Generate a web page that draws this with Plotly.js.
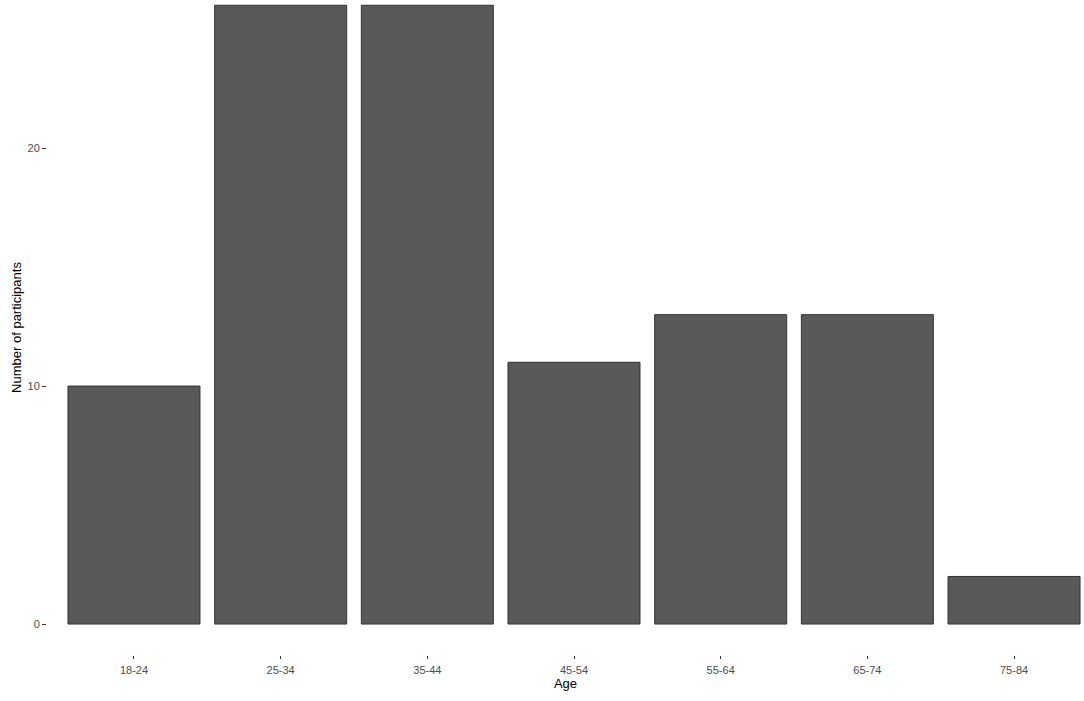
<!DOCTYPE html>
<html>
<head>
<meta charset="utf-8">
<script src="https://cdn.plot.ly/plotly-3.0.1.min.js"></script>
<style>
  html, body { margin: 0; padding: 0; background: #fff; }
  #chart { width: 1084px; height: 701px; }
</style>
</head>
<body>
<div id="chart"></div>
<script>
const ageGroups = ['18-24', '25-34', '35-44', '45-54', '55-64', '65-74', '75-84'];
const participants = [10, 26, 26, 11, 13, 13, 2];
const yTicks = [0, 10, 20];

const font = 'Liberation Sans, Arial, sans-serif';

Plotly.newPlot('chart', [{
  type: 'bar',
  x: ageGroups,
  y: participants,
  marker: { color: '#595959', line: { color: '#333333', width: 1 } },
  hoverinfo: 'x+y'
}], {
  width: 1084,
  height: 701,
  paper_bgcolor: '#ffffff',
  plot_bgcolor: '#ffffff',
  margin: { l: 47, r: 0, t: 0, b: 46 },
  bargap: 0.1,
  showlegend: false,
  font: { family: font, color: '#000000', size: 13 },
  xaxis: {
    type: 'category',
    range: [-0.593, 6.477],
    showgrid: false,
    zeroline: false,
    showline: false,
    ticks: 'outside',
    ticklen: 3,
    tickwidth: 1,
    tickcolor: '#333333',
    ticklabelstandoff: 2,
    tickfont: { family: font, size: 11, color: '#4d4d4d' },
    automargin: false,
    title: { text: 'Age', font: { family: font, size: 13, color: '#000000' }, standoff: 2 }
  },
  yaxis: {
    range: [-1.3, 26.22],
    tickvals: yTicks,
    ticktext: yTicks.map(String),
    showgrid: false,
    zeroline: false,
    showline: false,
    ticks: 'outside',
    ticklen: 4,
    tickwidth: 1,
    tickcolor: '#333333',
    tickfont: { family: font, size: 11, color: '#4d4d4d' },
    automargin: false,
    title: { text: 'Number of participants', font: { family: font, size: 13, color: '#000000' }, standoff: 2 }
  }
}, { displayModeBar: false, responsive: false });
</script>
</body>
</html>
